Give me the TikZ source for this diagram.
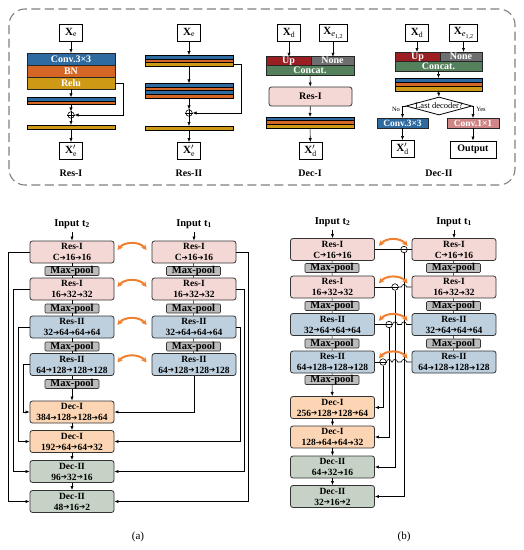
\documentclass[tikz,border=0pt]{standalone}
\usepackage{amsmath}
\usepackage{fontspec}
\setmainfont{Liberation Serif}
\newfontfamily\arrowfont{DejaVu Sans}
\usetikzlibrary{arrows.meta,shapes.geometric,positioning,calc}
\definecolor{convblue}{RGB}{46,107,160}
\definecolor{bnorange}{RGB}{214,102,38}
\definecolor{relugold}{RGB}{206,153,20}
\definecolor{upred}{RGB}{155,30,35}
\definecolor{nonegray}{RGB}{110,110,110}
\definecolor{catgreen}{RGB}{84,128,92}
\definecolor{onepink}{RGB}{208,134,134}
\definecolor{resone}{RGB}{244,216,214}
\definecolor{restwo}{RGB}{190,208,222}
\definecolor{decone}{RGB}{252,214,180}
\definecolor{dectwo}{RGB}{198,210,198}
\definecolor{poolgray}{RGB}{188,188,188}
\definecolor{linkorange}{RGB}{240,128,48}
\newcommand{\tto}{{\arrowfont\fontsize{7.5}{7.5}\selectfont\raisebox{.2pt}{➔}}}
\newcommand{\xeonetwo}{\textbf{X}\raisebox{-2.5pt}{\fontsize{8.5}{8.5}\selectfont\textit{e}\raisebox{-1.5pt}{\fontsize{6}{6}\selectfont 1,2}}}
\begin{document}
\begin{tikzpicture}[x=1pt, y=-1pt, line width=.6pt,
  arr/.style={-{Latex[length=4pt,width=3.2pt]}},
  link/.style={{Stealth[length=5.5pt,width=5.5pt]}-{Stealth[length=5.5pt,width=5.5pt]}, linkorange, line width=2pt},
  blk/.style={draw=black!80, line width=.8pt, rounded corners=2.5pt, minimum width=84pt, minimum height=22pt, inner sep=0pt, align=center, font=\bfseries\fontsize{9.5}{11}\selectfont},
  resI/.style={blk, fill=resone},
  resII/.style={blk, fill=restwo},
  decI/.style={blk, fill=decone},
  decII/.style={blk, fill=dectwo},
  pool/.style={draw=black!80, fill=poolgray, rounded corners=1pt, minimum width=54pt, minimum height=9pt, text height=6.5pt, text depth=1.5pt, inner sep=0pt, font=\bfseries\fontsize{10.5}{10.5}\selectfont},
  xbox/.style={draw, line width=.8pt, fill=white, minimum width=23pt, minimum height=17pt, inner sep=0pt, font=\fontsize{11}{11}\selectfont},
  layer/.style={draw=black!85, minimum width=88pt, minimum height=12pt, inner sep=0pt, outer sep=0pt, text=white, font=\bfseries\fontsize{10}{10}\selectfont},
  stripe/.style={draw=black, line width=.5pt, minimum width=88pt, minimum height=3.6pt, inner sep=0pt, outer sep=0pt},
  oplus/.style={circle, draw, fill=white, minimum size=6.5pt, inner sep=0pt},
  lbl/.style={font=\bfseries\fontsize{10}{10}\selectfont},
  inlab/.style={font=\bfseries\fontsize{10.5}{10.5}\selectfont},
  ]
\useasboundingbox (0,0) rectangle (524,550);

% frame of the blocks
\draw[gray, line width=1.1pt, dash pattern=on 9pt off 4.5pt, rounded corners=16pt] (9,9) rectangle (515,185);

% Res-I
\node[xbox] (ri-in) at (71,32.5) {$\mathbf{X}_{\mathrm{e}}$};
\node[layer, fill=convblue] (ri-conv) at (71,59) {Conv.3×3};
\node[layer, fill=bnorange, below=0pt of ri-conv] (ri-bn) {BN};
\node[layer, fill=relugold, below=0pt of ri-bn] (ri-relu) {Relu};
\node[stripe, fill=convblue] (ri-s1) at (71,99.2) {};
\node[stripe, fill=bnorange, below=0pt of ri-s1] (ri-s2) {};
\node[oplus] (ri-add) at (71,115) {};
\node[stripe, fill=relugold, minimum height=4pt] (ri-bar) at (71,127) {};
\node[xbox] (ri-out) at (71,151) {$\mathbf{X}'_{\mathrm{e}}$};
\node[lbl] (ri-name) at (71,173) {Res-I};
\draw[arr] (ri-in) -- (ri-conv);
\draw[arr] (ri-relu) -- (ri-s1);
\draw[arr] (ri-s2) -- (ri-add);
\draw[arr] (ri-add) -- (ri-bar);
\draw[arr] (ri-bar) -- (ri-out);
\draw[arr] (ri-relu.east) -- ++(8,0) |- (ri-add);
\draw (ri-add.north) -- (ri-add.south) (ri-add.west) -- (ri-add.east);

% Res-II
\node[xbox] (rii-in) at (189,32.5) {$\mathbf{X}_{\mathrm{e}}$};
\node[stripe, fill=convblue] (rii-a1) at (189,57) {};
\node[stripe, fill=bnorange, below=0pt of rii-a1] (rii-a2) {};
\node[stripe, fill=relugold, below=0pt of rii-a2] (rii-a3) {};
\node[stripe, fill=convblue] (rii-b1) at (189,85.2) {};
\node[stripe, fill=bnorange, below=0pt of rii-b1] (rii-b2) {};
\node[stripe, fill=convblue, below=0pt of rii-b2] (rii-b3) {};
\node[stripe, fill=bnorange, below=0pt of rii-b3] (rii-b4) {};
\node[oplus] (rii-add) at (189,113) {};
\node[stripe, fill=relugold, minimum height=4pt] (rii-bar) at (189,128) {};
\node[xbox] (rii-out) at (189,151) {$\mathbf{X}'_{\mathrm{e}}$};
\node[lbl] (rii-name) at (189,173) {Res-II};
\draw[arr] (rii-in) -- (rii-a1);
\draw[arr] (rii-a3) -- (rii-b1);
\draw[arr] (rii-b4) -- (rii-add);
\draw[arr] (rii-add) -- (rii-bar);
\draw[arr] (rii-bar) -- (rii-out);
\draw[arr] (rii-a3.east) -- ++(8,0) |- (rii-add);
\draw (rii-add.north) -- (rii-add.south) (rii-add.west) -- (rii-add.east);

% Dec-I
\node[xbox] (di-x) at (289,33) {$\mathbf{X}_{\mathrm{d}}$};
\node[xbox, minimum width=28pt] (di-e) at (333,33) {\xeonetwo};
\node[layer, fill=upred, minimum width=45pt, minimum height=8.5pt, text height=6.5pt, text depth=1.5pt] (di-up) at (288.5,61) {Up};
\node[layer, fill=nonegray, minimum width=43pt, minimum height=8.5pt, text height=6.5pt, text depth=1.5pt, right=0pt of di-up] (di-none) {None};
\node[layer, fill=catgreen, minimum height=10pt] (di-cat) at (310,70.2) {Concat.};
\node[blk, fill=resone, minimum width=83pt, minimum height=19pt, font=\bfseries\fontsize{10}{10}\selectfont] (di-res) at (310.5,96.5) {Res-I};
\node[stripe, fill=convblue] (di-s1) at (310,118.8) {};
\node[stripe, fill=bnorange, below=0pt of di-s1] (di-s2) {};
\node[stripe, fill=relugold, below=0pt of di-s2] (di-s3) {};
\node[xbox] (di-out) at (310.5,151) {$\mathbf{X}'_{\mathrm{d}}$};
\node[lbl] (di-name) at (310,173) {Dec-I};
\draw[arr] (di-x.south) -- (di-x.south |- di-up.north);
\draw[arr] (di-e.south) -- (di-e.south |- di-none.north);
\draw[arr] (di-cat) -- (di-res);
\draw[arr] (di-res) -- (di-s1);
\draw[arr] (di-s3) -- (di-out);

% Dec-II
\node[xbox] (dii-x) at (417,33) {$\mathbf{X}_{\mathrm{d}}$};
\node[xbox, minimum width=28pt] (dii-e) at (463.5,33) {\xeonetwo};
\node[layer, fill=upred, minimum width=45pt, minimum height=9pt, text height=6.5pt, text depth=1.5pt] (dii-up) at (417.5,56.5) {Up};
\node[layer, fill=nonegray, minimum width=42pt, minimum height=9pt, text height=6.5pt, text depth=1.5pt, right=0pt of dii-up] (dii-none) {None};
\node[layer, fill=catgreen, minimum width=87pt, minimum height=10pt] (dii-cat) at (438.5,66) {Concat.};
\node[stripe, fill=convblue, minimum width=87pt, minimum height=4.3pt] (dii-s1) at (438.5,80.2) {};
\node[stripe, fill=bnorange, minimum width=87pt, minimum height=4.3pt, below=0pt of dii-s1] (dii-s2) {};
\node[stripe, fill=relugold, minimum width=87pt, minimum height=4.3pt, below=0pt of dii-s2] (dii-s3) {};
\node[diamond, draw, line width=.8pt, fill=white, aspect=3.7, inner sep=0pt, minimum width=66pt, minimum height=18pt] (dii-q) at (439,106) {};
\node[font=\fontsize{8.5}{8.5}\selectfont] (dii-qt) at (dii-q) {Last decoder?};
\node[layer, fill=convblue, minimum width=51pt, minimum height=10pt, font=\bfseries\fontsize{9.5}{9.5}\selectfont] (dii-c3) at (402.5,123) {Conv.3×3};
\node[layer, fill=onepink, minimum width=52pt, minimum height=10pt, font=\bfseries\fontsize{9.5}{9.5}\selectfont] (dii-c1) at (473,123) {Conv.1×1};
\node[xbox] (dii-out) at (402.5,149) {$\mathbf{X}'_{\mathrm{d}}$};
\node[xbox, minimum width=46pt, font=\bfseries\fontsize{10}{10}\selectfont] (dii-res) at (473,149.5) {Output};
\node[lbl] (dii-name) at (439,173) {Dec-II};
\node[font=\fontsize{6.5}{6.5}\selectfont] (dii-no) at (396,109.5) {No};
\node[font=\fontsize{6.5}{6.5}\selectfont] (dii-yes) at (481,109.5) {Yes};
\draw[arr] (dii-x.south) -- (dii-x.south |- dii-up.north);
\draw[arr] (dii-e.south) -- (dii-e.south |- dii-none.north);
\draw[arr] (dii-cat) -- (dii-cat |- dii-s1.north);
\draw[arr] (dii-s3.south) -- (dii-q.north);
\draw[arr] (dii-q.west) -| (dii-c3.north);
\draw[arr] (dii-q.east) -| (dii-c1.north);
\draw[arr] (dii-c3) -- (dii-out);
\draw[arr] (dii-c1) -- (dii-res);

% (a) siamese concatenation
\node[inlab] (a-in2) at (72,224) {Input t\textsubscript{2}};
\node[inlab] (a-in1) at (194,224) {Input t\textsubscript{1}};
\node[resI] (a-l1) at (72,252) {Res-I\\C\tto16\tto16};
\node[pool] (a-lp1) at (72,271) {Max-pool};
\node[resI] (a-l2) at (72,289) {Res-I\\16\tto32\tto32};
\node[pool] (a-lp2) at (72,308.5) {Max-pool};
\node[resII] (a-l3) at (72,327) {Res-II\\32\tto64\tto64\tto64};
\node[pool] (a-lp3) at (72,346.5) {Max-pool};
\node[resII] (a-l4) at (72,364.5) {Res-II\\64\tto128\tto128\tto128};
\node[pool] (a-lp4) at (72,384) {Max-pool};
\node[decI] (a-d1) at (72,412) {Dec-I\\384\tto128\tto128\tto64};
\node[decI] (a-d2) at (72,441.5) {Dec-I\\192\tto64\tto64\tto32};
\node[decII] (a-d3) at (72,471.5) {Dec-II\\96\tto32\tto16};
\node[decII] (a-d4) at (72,501.5) {Dec-II\\48\tto16\tto2};
\node[resI] (a-r1) at (194,252) {Res-I\\C\tto16\tto16};
\node[pool] (a-rp1) at (193.5,271) {Max-pool};
\node[resI] (a-r2) at (194,289) {Res-I\\16\tto32\tto32};
\node[pool] (a-rp2) at (193.5,308.5) {Max-pool};
\node[resII] (a-r3) at (194,327) {Res-II\\32\tto64\tto64\tto64};
\node[pool] (a-rp3) at (193.5,346.5) {Max-pool};
\node[resII] (a-r4) at (194,364.5) {Res-II\\64\tto128\tto128\tto128};
\node[font=\fontsize{11}{11}\selectfont] (a-name) at (138,537) {(a)};
\draw[arr] (a-in2) -- (a-l1);
\draw[arr] (a-in1) -- (a-r1);
\foreach \u/\v in {l1/lp1, lp1/l2, l2/lp2, lp2/l3, l3/lp3, lp3/l4, l4/lp4, r1/rp1, rp1/r2, r2/rp2, rp2/r3, r3/rp3, rp3/r4}
  \draw (a-\u) -- (a-\v);
\foreach \u/\v in {lp4/d1, d1/d2, d2/d3, d3/d4}
  \draw[arr] (a-\u) -- (a-\v);
\draw[arr] (a-l1.west) -- ++(-21,0) |- (a-d4.west);
\draw[arr] (a-l2.west) -- ++(-16,0) |- (a-d3.west);
\draw[arr] (a-l3.west) -- ++(-11,0) |- (a-d2.west);
\draw[arr] (a-l4.west) -- ++(-6,0) |- (a-d1.west);
\draw[arr] (a-r1.east) -- ++(12,0) |- (a-d4.east);
\draw[arr] (a-r2.east) -- ++(8,0) |- (a-d3.east);
\draw[arr] (a-r3.east) -- ++(4,0) |- (a-d2.east);
\draw[arr] (a-r4.south) |- (a-d1.east);
\foreach \i in {1,...,4}
  \draw[link] ([xshift=3pt,yshift=2pt]a-l\i.east) to[bend left=50] ([xshift=-5pt,yshift=2pt]a-r\i.west);

% (b) siamese difference
\node[inlab] (b-in2) at (332.5,222) {Input t\textsubscript{2}};
\node[inlab] (b-in1) at (454,222) {Input t\textsubscript{1}};
\node[resI] (b-l1) at (332.5,249.5) {Res-I\\C\tto16\tto16};
\node[pool] (b-lp1) at (332,268) {Max-pool};
\node[resI] (b-l2) at (332.5,287) {Res-I\\16\tto32\tto32};
\node[pool] (b-lp2) at (332,306) {Max-pool};
\node[resII] (b-l3) at (332.5,324.5) {Res-II\\32\tto64\tto64\tto64};
\node[pool] (b-lp3) at (332,343.5) {Max-pool};
\node[resII] (b-l4) at (332.5,362) {Res-II\\64\tto128\tto128\tto128};
\node[pool] (b-lp4) at (332,380) {Max-pool};
\node[decI] (b-d1) at (332.5,407.5) {Dec-I\\256\tto128\tto128\tto64};
\node[decI] (b-d2) at (332.5,437) {Dec-I\\128\tto64\tto64\tto32};
\node[decII] (b-d3) at (332.5,467) {Dec-II\\64\tto32\tto16};
\node[decII] (b-d4) at (332.5,496.5) {Dec-II\\32\tto16\tto2};
\node[resI] (b-r1) at (454,249.5) {Res-I\\C\tto16\tto16};
\node[pool] (b-rp1) at (453.5,268) {Max-pool};
\node[resI] (b-r2) at (454,287) {Res-I\\16\tto32\tto32};
\node[pool] (b-rp2) at (453.5,306) {Max-pool};
\node[resII] (b-r3) at (454,324.5) {Res-II\\32\tto64\tto64\tto64};
\node[pool] (b-rp3) at (453.5,343.5) {Max-pool};
\node[resII] (b-r4) at (454,362) {Res-II\\64\tto128\tto128\tto128};
\node[oplus] (b-m1) at (404,249.5) {};
\node[oplus] (b-m2) at (395,287) {};
\node[oplus] (b-m3) at (389,324.5) {};
\node[oplus] (b-m4) at (383,362) {};
\node[font=\fontsize{11}{11}\selectfont] (b-name) at (404,537) {(b)};
\draw[arr] (b-in2) -- (b-l1);
\draw[arr] (b-in1) -- (b-r1);
\foreach \u/\v in {l1/lp1, lp1/l2, l2/lp2, lp2/l3, l3/lp3, lp3/l4, l4/lp4, r1/rp1, rp1/r2, r2/rp2, rp2/r3, r3/rp3, rp3/r4}
  \draw (b-\u) -- (b-\v);
\foreach \u/\v in {lp4/d1, d1/d2, d2/d3, d3/d4}
  \draw[arr] (b-\u) -- (b-\v);
% differences, with hops over the lines below
\draw (b-l1.east) -- (b-m1.west) (b-m1.east) -- (b-r1.west);
\draw (b-l2.east) -- (b-m2.west);
\draw (b-m2.east) -- ($(b-m1 |- b-m2)+(-2.5,0)$) .. controls +(0,-3.4) and +(0,-3.4) .. ($(b-m1 |- b-m2)+(2.5,0)$) -- (b-r2.west);
\draw (b-l3.east) -- (b-m3.west);
\draw (b-m3.east) -- ($(b-m2 |- b-m3)+(-2.5,0)$) .. controls +(0,-3.4) and +(0,-3.4) .. ($(b-m2 |- b-m3)+(2.5,0)$)
  -- ($(b-m1 |- b-m3)+(-2.5,0)$) .. controls +(0,-3.4) and +(0,-3.4) .. ($(b-m1 |- b-m3)+(2.5,0)$) -- (b-r3.west);
\draw (b-l4.east) -- (b-m4.west);
\draw (b-m4.east) -- ($(b-m3 |- b-m4)+(-2.5,0)$) .. controls +(0,-3.4) and +(0,-3.4) .. ($(b-m3 |- b-m4)+(2.5,0)$)
  -- ($(b-m2 |- b-m4)+(-2.5,0)$) .. controls +(0,-3.4) and +(0,-3.4) .. ($(b-m2 |- b-m4)+(2.5,0)$)
  -- ($(b-m1 |- b-m4)+(-2.5,0)$) .. controls +(0,-3.4) and +(0,-3.4) .. ($(b-m1 |- b-m4)+(2.5,0)$) -- (b-r4.west);
\foreach \i in {1,...,4}
  \draw (b-m\i.west) -- (b-m\i.east);
\draw[arr] (b-m1.south) |- (b-d4.east);
\draw[arr] (b-m2.south) |- (b-d3.east);
\draw[arr] (b-m3.south) |- (b-d2.east);
\draw[arr] (b-m4.south) |- (b-d1.east);
\foreach \i in {1,...,4}
  \draw[link] ([xshift=4pt,yshift=3.5pt]b-l\i.east) to[bend left=50] ([xshift=-4pt,yshift=3.5pt]b-r\i.west);
\end{tikzpicture}
\end{document}
